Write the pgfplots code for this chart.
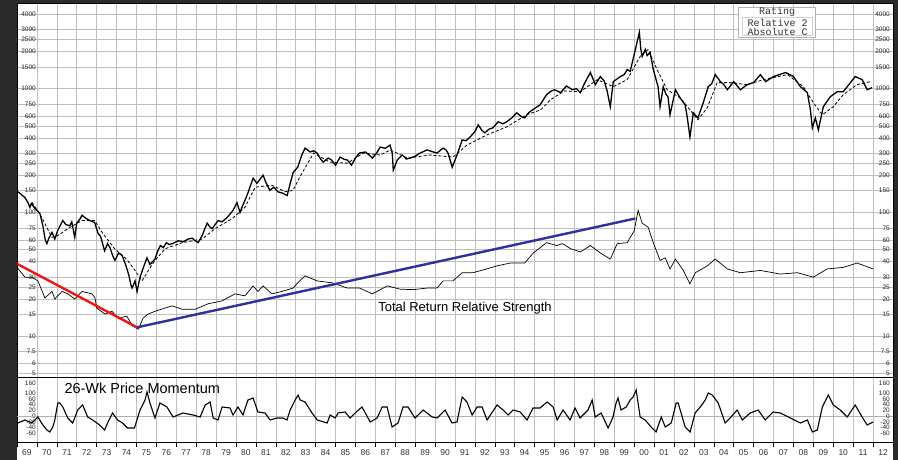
\documentclass[border=0pt]{standalone}
\usepackage{pgfplots}
\pgfplotsset{compat=1.18}
\usepackage{fontspec}
\setmainfont{Liberation Sans}
\newfontfamily\boxfont{Liberation Mono}
\definecolor{framegray}{RGB}{43,43,43}
\definecolor{trendblue}{RGB}{48,48,160}
\definecolor{trendred}{RGB}{240,20,20}

\pgfplotsset{
  panel/.style={scale only axis, width=876pt, xmin=1969, xmax=2013,
    axis line style={black, line width=1pt},
    major tick length=0pt, minor tick length=0pt,
    tick label style={font=\fontsize{6.5}{7}\selectfont, black!85},
    clip=true},
  leftlabels/.style={ytick pos=left, yticklabel style={anchor=east, inner sep=0pt, xshift=19pt}},
  rightlabels/.style={ytick pos=right, yticklabel pos=right, axis line style={draw=none},
    xtick=\empty, yticklabel style={anchor=east, inner sep=0pt, xshift=-3pt}},
  priceticks/.style={ymin=4.6, ymax=4830,
    ytick={5,6,7.5,10,15,20,25,30,40,50,60,75,100,150,200,250,300,400,500,600,750,1000,1500,2000,2500,3000,4000},
    yticklabels={5,6,7.5,10,15,20,25,30,40,50,60,75,100,150,200,250,300,400,500,600,750,1000,1500,2000,2500,3000,4000}},
  momticks/.style={ymin=-27, ymax=38,
    ytick={-17,-11,-6,0,6,12,17,23,33},
    yticklabels={-60,-40,-20,0,20,40,60,100,160}},
}

\begin{document}
\begin{tikzpicture}
\fill[framegray] (0pt,0pt) rectangle (898pt,460pt);
\fill[white] (17pt,0pt) rectangle (893pt,456pt);

% price panel
\begin{axis}[ymode=log, panel, priceticks, leftlabels, at={(17pt,82pt)}, anchor=south west, height=374pt,
  xtick={1969,1970,...,2013}, xticklabels={},
  grid=major, grid style={gray!50, line width=0.5pt}]
\addplot[black, line width=1.3pt] coordinates {
(1969.05,147) (1969.25,138) (1969.4,132) (1969.55,120) (1969.65,110) (1969.72,118) (1969.9,108)
(1970.15,98) (1970.3,78) (1970.42,60) (1970.5,56) (1970.6,62) (1970.76,69) (1970.9,61)
(1971.05,72) (1971.3,86) (1971.45,80) (1971.65,78) (1971.75,84) (1971.9,63) (1972.0,82)
(1972.15,88) (1972.27,95) (1972.45,90) (1972.65,86) (1972.9,83) (1973.07,68) (1973.2,64)
(1973.4,49) (1973.55,56) (1973.67,52) (1973.8,45) (1973.92,41) (1974.1,47) (1974.28,45)
(1974.4,40) (1974.5,36) (1974.62,31) (1974.72,26) (1974.78,24.5) (1974.93,28) (1975.03,23)
(1975.18,30) (1975.35,36) (1975.53,43) (1975.68,38) (1975.93,42) (1976.05,48) (1976.2,54)
(1976.35,52) (1976.5,57) (1976.65,55) (1976.8,56) (1977.1,59) (1977.35,58) (1977.6,61)
(1977.8,62) (1977.95,59) (1978.1,57) (1978.3,65) (1978.45,75) (1978.55,82) (1978.7,76)
(1978.8,74) (1979.1,86) (1979.3,84) (1979.55,91) (1979.7,97) (1979.85,104) (1980.05,120)
(1980.2,100) (1980.3,110) (1980.55,137) (1980.7,160) (1980.86,189) (1981.05,172) (1981.2,185)
(1981.36,200) (1981.5,175) (1981.7,151) (1981.9,160) (1982.1,147) (1982.35,143) (1982.57,137)
(1982.7,166) (1982.87,210) (1983.1,232) (1983.3,290) (1983.47,331) (1983.72,308) (1983.9,315)
(1984.07,302) (1984.25,270) (1984.38,255) (1984.63,275) (1984.8,265) (1985.0,241) (1985.23,280)
(1985.45,268) (1985.6,265) (1985.8,241) (1986.0,275) (1986.2,302) (1986.5,308) (1986.7,290)
(1986.85,275) (1987.05,300) (1987.24,337) (1987.5,330) (1987.74,350) (1987.85,300) (1987.9,220)
(1988.1,265) (1988.35,291) (1988.55,270) (1988.75,275) (1989.0,285) (1989.25,302) (1989.6,320)
(1989.85,310) (1990.1,302) (1990.4,331) (1990.55,320) (1990.65,302) (1990.86,232) (1991.1,291)
(1991.36,385) (1991.55,380) (1991.76,407) (1992.0,450) (1992.17,510) (1992.35,460) (1992.5,440)
(1992.7,470) (1992.9,482) (1993.17,540) (1993.4,520) (1993.6,540) (1993.85,580) (1994.1,638)
(1994.3,600) (1994.5,580) (1994.7,640) (1994.9,675) (1995.28,741) (1995.45,820) (1995.6,894)
(1995.8,950) (1996.0,981) (1996.3,930) (1996.6,1050) (1996.9,980) (1997.1,1000) (1997.3,928)
(1997.5,1100) (1997.8,1349) (1998.05,1078) (1998.3,1252) (1998.5,1150) (1998.65,945) (1998.8,714)
(1998.95,1140) (1999.15,1200) (1999.3,1252) (1999.5,1300) (1999.65,1427) (1999.8,1380) (2000.06,2075)
(2000.26,2850) (2000.33,2100) (2000.4,1820) (2000.56,2075) (2000.65,1850) (2000.8,1960) (2000.96,1427)
(2001.1,1183) (2001.2,1037) (2001.3,714) (2001.46,1037) (2001.6,900) (2001.7,861) (2001.8,615)
(2002.07,981) (2002.3,845) (2002.56,741) (2002.67,580) (2002.8,407) (2002.97,638) (2003.2,580)
(2003.47,770) (2003.72,1037) (2003.9,1100) (2004.07,1299) (2004.33,1140) (2004.5,1080) (2004.68,981)
(2005.0,1140) (2005.33,981) (2005.68,1078) (2006.0,1119) (2006.34,1299) (2006.6,1140) (2007.0,1252)
(2007.3,1300) (2007.6,1349) (2008.0,1252) (2008.35,1037) (2008.7,928) (2008.85,675) (2008.95,482)
(2009.1,580) (2009.25,464) (2009.5,714) (2009.85,861) (2010.2,945) (2010.5,945) (2010.7,1037)
(2011.1,1252) (2011.45,1183) (2011.7,981) (2011.95,1019)};
\addplot[black, line width=0.8pt, dash pattern=on 3pt off 2pt] coordinates {
(1969.75,121) (1970.25,91) (1970.75,63) (1971.05,65) (1971.55,74) (1972.27,86) (1972.9,86)
(1973.3,68) (1973.9,51) (1974.5,42) (1974.93,34) (1975.28,28) (1975.6,34) (1975.93,41)
(1976.45,51) (1977.3,57) (1978.3,61) (1978.95,74) (1979.8,89) (1980.45,110) (1980.96,160)
(1981.8,166) (1982.47,147) (1982.87,151) (1983.2,193) (1983.9,302) (1984.7,255) (1985.6,250)
(1986.4,302) (1987.25,291) (1987.75,320) (1988.6,275) (1989.75,291) (1990.9,280) (1991.6,350)
(1992.6,423) (1993.6,491) (1994.6,615) (1995.3,675) (1995.8,814) (1996.5,960) (1997.3,945)
(1998.15,1183) (1998.95,1037) (1999.65,1183) (2000.3,1820) (2000.7,2075) (2001.15,1427) (2001.65,981)
(2002.3,845) (2002.8,675) (2003.2,560) (2003.67,700) (2004.17,1119) (2004.83,1119) (2005.68,1078)
(2006.5,1183) (2007.7,1299) (2008.5,1037) (2009.0,770) (2009.45,615) (2010.0,714) (2010.5,894)
(2011.2,1078) (2011.87,1140)};
\addplot[black, line width=0.7pt] coordinates {
(1969.0,36) (1969.4,30) (1969.75,30) (1970.05,28) (1970.4,20.4) (1970.76,23) (1970.9,20)
(1971.26,23) (1971.56,22) (1971.9,20) (1972.27,23) (1972.77,22) (1972.92,20.4) (1973.0,16.9)
(1973.42,15.1) (1973.77,15.9) (1974.08,14.0) (1974.52,14.5) (1974.8,12.1) (1975.1,11.4) (1975.33,14.0)
(1975.58,15.1) (1975.93,15.9) (1976.44,16.9) (1976.8,17.6) (1977.3,16.5) (1977.95,16.5) (1978.6,18.3)
(1979.3,19.3) (1979.95,22) (1980.45,21.2) (1980.86,25.5) (1981.1,23) (1981.36,25.5) (1981.8,22)
(1982.3,23) (1982.87,24.5) (1983.1,27) (1983.47,30.8) (1984.07,28) (1984.83,27) (1985.6,24.5)
(1986.2,24.5) (1986.85,22) (1987.6,25.5) (1988.25,24) (1988.9,23.8) (1989.6,24.5) (1990.1,24.5)
(1990.4,28) (1990.9,28) (1991.36,32.6) (1991.9,32.6) (1992.6,35) (1993.1,37) (1993.77,39)
(1994.5,39) (1994.93,47) (1995.6,57) (1996.1,54) (1996.4,56) (1996.8,51) (1997.3,48)
(1997.8,54) (1998.3,47) (1998.8,42) (1999.15,56) (1999.65,57) (2000.0,71) (2000.2,104)
(2000.4,82) (2000.7,76) (2000.96,57) (2001.3,41) (2001.56,43) (2001.8,35) (2002.07,42)
(2002.47,34) (2002.8,26.5) (2003.07,32.6) (2003.67,37) (2004.07,42) (2004.68,35) (2005.33,32.6)
(2006.34,34) (2007.34,31.8) (2008.2,32.6) (2009.0,30) (2009.7,35) (2010.5,36) (2011.2,39)
(2012.0,35)};
\addplot[trendred, line width=2.4pt] coordinates {(1969.0,38.5) (1975.03,11.8)};
\addplot[trendblue, line width=2.4pt] coordinates {(1975.03,11.8) (2000.06,89.4)};
\end{axis}
\begin{axis}[ymode=log, panel, priceticks, rightlabels, at={(17pt,82pt)}, anchor=south west, height=374pt]
\addplot[draw=none] coordinates {(1970,10)};
\end{axis}

% momentum panel
\begin{axis}[panel, momticks, leftlabels, at={(17pt,17pt)}, anchor=south west, height=65pt,
  xtick={1969,1970,...,2013}, xticklabels={}, xtick pos=left, tick align=outside,
  x tick style={black, line width=0.5pt},
  major x tick style={/pgfplots/major tick length=4pt},
  minor x tick num=11, minor x tick style={/pgfplots/minor tick length=2.5pt},
  xmajorgrids, grid style={gray!50, line width=0.5pt},
  extra x ticks={1969.5,1970.5,...,2012.5},
  extra x tick labels={69,70,71,72,73,74,75,76,77,78,79,80,81,82,83,84,85,86,87,88,89,90,91,92,93,94,95,96,97,98,99,00,01,02,03,04,05,06,07,08,09,10,11,12},
  extra x tick style={grid=none, tick style={draw=none},
    xticklabel style={font=\fontsize{8.5}{9}\selectfont, black!80, inner sep=0pt, yshift=-6pt}}]
\draw[gray!60, line width=0.6pt] (axis cs:1969,0) -- (axis cs:2013,0);
\addplot[black, line width=1.1pt] coordinates {
(1969.05,-7) (1969.4,-4) (1969.75,-7) (1970.05,-1) (1970.3,-9) (1970.5,-14) (1970.65,-16)
(1970.8,-11) (1970.9,-4) (1971.05,13) (1971.15,13) (1971.3,9) (1971.55,-2) (1971.8,-7)
(1972.05,6) (1972.3,11) (1972.55,-1) (1972.8,-4) (1973.15,-9) (1973.4,-14) (1973.55,-7)
(1973.8,3) (1974.05,-4) (1974.3,-7) (1974.55,-12) (1974.9,-12) (1975.18,6) (1975.43,16)
(1975.53,24) (1975.68,13) (1975.93,-2) (1976.18,13) (1976.53,9) (1976.84,-1) (1977.34,3)
(1977.84,1) (1978.2,-1) (1978.45,11) (1978.7,14) (1978.85,-2) (1979.1,-4) (1979.3,9)
(1979.7,8) (1979.85,1) (1980.1,9) (1980.35,1) (1980.6,16) (1980.86,18) (1981.1,4)
(1981.46,3) (1981.71,-4) (1982.06,-2) (1982.36,-2) (1982.56,-4) (1982.72,6) (1982.97,16)
(1983.12,21) (1983.22,16) (1983.47,14) (1983.82,3) (1984.08,-4) (1984.58,-7) (1984.73,1)
(1984.98,-2) (1985.13,3) (1985.48,4) (1985.73,-2) (1985.98,3) (1986.33,9) (1986.74,-6)
(1987.09,-2) (1987.34,9) (1987.59,9) (1987.84,-11) (1988.14,-7) (1988.39,9) (1988.64,9)
(1988.99,-2) (1989.4,6) (1989.85,-1) (1990.1,-2) (1990.5,6) (1990.85,-7) (1991.1,-6)
(1991.36,19) (1991.6,14) (1991.86,1) (1992.11,9) (1992.36,9) (1992.61,-4) (1993.11,11)
(1993.42,6) (1993.67,1) (1993.92,6) (1994.27,4) (1994.62,-4) (1994.92,8) (1995.27,8)
(1995.63,14) (1995.93,9) (1996.13,-4) (1996.43,6) (1996.78,-4) (1997.03,8) (1997.28,-2)
(1997.68,6) (1997.89,16) (1998.04,-1) (1998.19,1) (1998.34,3) (1998.69,-12) (1998.94,-1)
(1999.09,13) (1999.19,18) (1999.34,6) (1999.6,9) (1999.8,16) (1999.95,19) (2000.1,26)
(2000.3,-1) (2000.55,-4) (2000.85,-11) (2001.1,-16) (2001.36,-1) (2001.56,-11) (2001.86,-7)
(2002.11,13) (2002.21,13) (2002.56,-11) (2002.81,-16) (2003.06,3) (2003.32,9) (2003.57,16)
(2003.72,23) (2003.92,21) (2004.22,13) (2004.57,-7) (2004.82,-2) (2005.17,6) (2005.43,-4)
(2005.83,3) (2006.23,6) (2006.58,-4) (2006.98,4) (2007.34,3) (2007.84,-2) (2008.35,-7)
(2008.7,-4) (2008.95,-16) (2009.2,-14) (2009.45,9) (2009.75,21) (2010.0,11) (2010.35,6)
(2010.7,-1) (2011.1,11) (2011.45,-1) (2011.7,-9) (2012.0,-6)};
\end{axis}
\begin{axis}[panel, momticks, rightlabels, at={(17pt,17pt)}, anchor=south west, height=65pt]
\addplot[draw=none] coordinates {(1970,0)};
\end{axis}

% texts
\node[font=\fontsize{13}{15}\selectfont] at (465pt,152pt) {Total Return Relative Strength};
\node[anchor=west, font=\fontsize{14.5}{16}\selectfont] at (61pt,72pt) {26-Wk Price Momentum};
\draw[gray!60, fill=white, line width=0.6pt] (738pt,423pt) rectangle (815pt,453pt);
\draw[gray!35, line width=0.5pt] (742pt,425pt) rectangle (812pt,443pt);
\node[font=\boxfont\fontsize{10}{10}\selectfont, black!80] at (777pt,448pt) {Rating};
\node[font=\boxfont\fontsize{10}{10}\selectfont, black!80, anchor=west] at (744pt,437.5pt) {Relative 2};
\node[font=\boxfont\fontsize{10}{10}\selectfont, black!80, anchor=west] at (744pt,428pt) {Absolute C};
\end{tikzpicture}
\end{document}
